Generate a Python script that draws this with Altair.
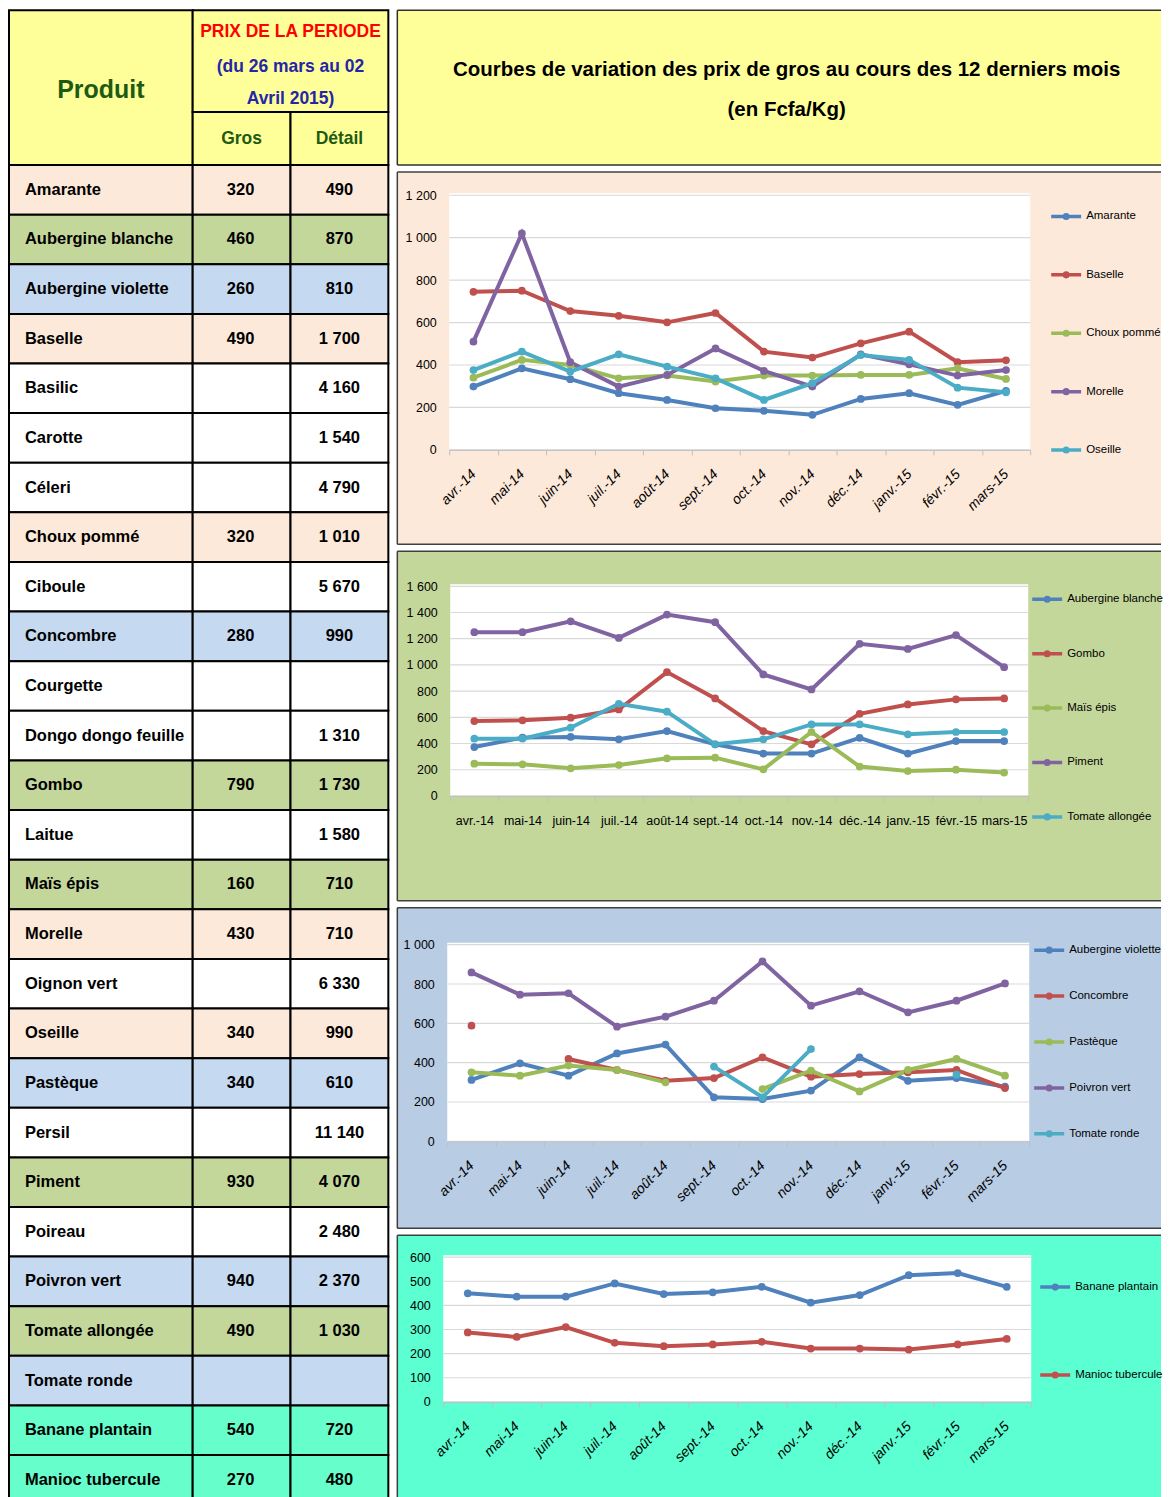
import altair as alt
import pandas as pd

# ---------------- data ----------------
mois = ["avr.-14", "mai-14", "juin-14", "juil.-14", "août-14", "sept.-14",
        "oct.-14", "nov.-14", "déc.-14", "janv.-15", "févr.-15", "mars-15"]

produits = ["Amarante", "Aubergine blanche", "Aubergine violette", "Baselle", "Basilic",
            "Carotte", "Céleri", "Choux pommé", "Ciboule", "Concombre", "Courgette",
            "Dongo dongo feuille", "Gombo", "Laitue", "Maïs épis", "Morelle", "Oignon vert",
            "Oseille", "Pastèque", "Persil", "Piment", "Poireau", "Poivron vert",
            "Tomate allongée", "Tomate ronde", "Banane plantain", "Manioc tubercule"]
prix_gros = [320, 460, 260, 490, None, None, None, 320, None, 280, None, None, 790, None,
             160, 430, None, 340, 340, None, 930, None, 940, 490, None, 540, 270]
prix_detail = [490, 870, 810, 1700, 4160, 1540, 4790, 1010, 5670, 990, None, 1310, 1730,
               1580, 710, 710, 6330, 990, 610, 11140, 4070, 2480, 2370, 1030, None, 720, 480]
groupes = ["Graphique 1", "Graphique 2", "Graphique 3", "Graphique 1", "Aucun", "Aucun", "Aucun",
           "Graphique 1", "Aucun", "Graphique 3", "Aucun", "Aucun", "Graphique 2", "Aucun",
           "Graphique 2", "Graphique 1", "Aucun", "Graphique 1", "Graphique 3", "Aucun",
           "Graphique 2", "Aucun", "Graphique 3", "Graphique 2", "Graphique 3",
           "Graphique 4", "Graphique 4"]

g1_noms = ["Amarante", "Baselle", "Choux pommé", "Morelle", "Oseille"]
amarante = [298, 384, 333, 267, 235, 196, 184, 165, 240, 267, 212, 278]
baselle = [745, 750, 654, 632, 601, 645, 463, 435, 502, 557, 413, 422]
choux_pomme = [340, 424, 400, 337, 350, 322, 350, 350, 353, 353, 384, 334]
morelle = [510, 1020, 413, 298, 353, 478, 372, 298, 450, 403, 350, 376]
oseille = [376, 463, 369, 450, 392, 337, 235, 314, 447, 424, 293, 271]

g2_noms = ["Aubergine blanche", "Gombo", "Maïs épis", "Piment", "Tomate allongée"]
aubergine_blanche = [373, 445, 450, 432, 495, 394, 323, 323, 444, 323, 419, 419]
gombo = [571, 577, 597, 660, 945, 744, 495, 394, 627, 698, 737, 744]
mais_epis = [246, 241, 211, 236, 287, 292, 203, 488, 224, 190, 200, 178]
piment = [1250, 1250, 1333, 1206, 1384, 1326, 927, 813, 1161, 1122, 1227, 983]
tomate_allongee = [437, 437, 521, 703, 643, 394, 432, 546, 546, 470, 488, 488]

g3_noms = ["Aubergine violette", "Concombre", "Pastèque", "Poivron vert", "Tomate ronde"]
aubergine_violette = [312, 397, 334, 447, 492, 224, 215, 258, 427, 308, 322, 278]
concombre = [588, None, 419, 363, 308, 322, 427, 329, 342, 351, 363, 271]
pasteque = [351, 334, 385, 363, 300, None, 266, 359, 254, 363, 419, 334]
poivron_vert = [859, 746, 753, 583, 634, 715, 915, 690, 763, 656, 715, 803]
tomate_ronde = [None, None, None, None, None, 380, 224, 469, None, None, 339, None]

g4_noms = ["Banane plantain", "Manioc tubercule"]
banane_plantain = [450, 436, 436, 491, 447, 454, 477, 411, 443, 525, 534, 477]
manioc_tubercule = [288, 269, 310, 245, 231, 238, 249, 221, 221, 217, 238, 261]

titre_1 = "Courbes de variation des prix de gros au cours des 12 derniers mois"
titre_2 = "(en Fcfa/Kg)"
entete_produit = "Produit"
entete_prix = ["PRIX DE LA PERIODE", "(du 26 mars au 02", "Avril 2015)"]
entete_gros = "Gros"
entete_detail = "Détail"

# ---------------- styles ----------------
FONT = "Liberation Sans, Arial, sans-serif"
SERIES_COLORS = ["#4F81BD", "#C0504D", "#9BBB59", "#8064A2", "#4BACC6"]
LEG_SYMBOL = "M-1,0L1,0M-0.12,0A0.12,0.12,0,1,0,0.12,0A0.12,0.12,0,1,0,-0.12,0"
PANEL_W = 765
ONE = alt.Data(values=[{}])


def fmt(v):
    return "" if v is None else f"{v:,}".replace(",", " ")


def text_layer(txt, x, y, size, color, weight="bold"):
    return alt.Chart(ONE).mark_text(
        font=FONT, fontSize=size, fontWeight=weight, color=color,
        align="center", baseline="middle"
    ).encode(x=alt.value(x), y=alt.value(y), text=alt.value(txt))


def box(x0, x1, y0, y1, fill, stroke="black", sw=2):
    return alt.Chart(ONE).mark_rect(fill=fill, stroke=stroke, strokeWidth=sw).encode(
        x=alt.value(x0), x2=alt.value(x1), y=alt.value(y0), y2=alt.value(y1))


def borders(width, height, color="#404040", sw=1.5):
    # left, top and bottom edges (the right edge runs off the page in the reference)
    mk = alt.Chart(ONE).mark_rule(color=color, strokeWidth=sw)
    return [
        mk.encode(x=alt.value(0), y=alt.value(0), y2=alt.value(height)),
        mk.encode(x=alt.value(0), x2=alt.value(width), y=alt.value(0)),
        mk.encode(x=alt.value(0), x2=alt.value(width), y=alt.value(height)),
    ]


# ---------------- table (one chart) ----------------
HDR_H = 155
ROW_H = 49.7
TABLE_H = HDR_H + round(ROW_H * len(produits))
HDR_GREEN = "#1E5B12"
YEL = "#FFFF99"

header_layers = [
    box(0, 184, 0, HDR_H, YEL),
    box(184, 380, 0, 102, YEL),
    box(184, 282, 102, HDR_H, YEL),
    box(282, 380, 102, HDR_H, YEL),
    text_layer(entete_produit, 92, 80, 25, HDR_GREEN),
    text_layer(entete_prix[0], 282, 22, 17.5, "#FF0000"),
    text_layer(entete_prix[1], 282, 57, 17.5, "#2525A8"),
    text_layer(entete_prix[2], 282, 89, 17.5, "#2525A8"),
    text_layer(entete_gros, 233, 129, 17.5, HDR_GREEN),
    text_layer(entete_detail, 331, 129, 17.5, HDR_GREEN),
]

table_df = pd.DataFrame({
    "produit": produits,
    "gros": [fmt(v) for v in prix_gros],
    "detail": [fmt(v) for v in prix_detail],
    "groupe": groupes,
})
row_y = alt.Y("produit:N", sort=produits, axis=None,
              scale=alt.Scale(type="band", range=[HDR_H, TABLE_H],
                              paddingInner=0, paddingOuter=0))
row_fill = alt.Color("groupe:N", legend=None, scale=alt.Scale(
    domain=["Graphique 1", "Graphique 2", "Graphique 3", "Graphique 4", "Aucun"],
    range=["#FDE9D9", "#C4D79B", "#C5D9F1", "#66FFCC", "#FFFFFF"]))
tbase = alt.Chart(table_df)
rect_layers = [
    tbase.mark_rect(stroke="black", strokeWidth=2, opacity=1).encode(
        y=row_y, x=alt.value(a), x2=alt.value(b), fill=row_fill)
    for a, b in [(0, 184), (184, 282), (282, 380)]
]
tx = dict(font=FONT, fontSize=16.5, fontWeight="bold", color="black", baseline="middle")
table = alt.layer(
    *header_layers,
    *rect_layers,
    tbase.mark_text(align="left", **tx).encode(y=row_y, x=alt.value(16), text="produit:N"),
    tbase.mark_text(align="center", **tx).encode(y=row_y, x=alt.value(232), text="gros:N"),
    tbase.mark_text(align="center", **tx).encode(y=row_y, x=alt.value(331), text="detail:N"),
).properties(width=380, height=TABLE_H,
             view=alt.ViewBackground(fill="white", strokeWidth=0))


# ---------------- chart panels ----------------
def panel(names, series, ymax, ystep, height, x0, x1, ytop, ybot, bg,
          leg_x, leg_y, leg_pad, rotate, xlab_pad):
    recs = []
    for n, vals in zip(names, series):
        for i, (m, v) in enumerate(zip(mois, vals)):
            recs.append({"mois": m, "i": i, "produit": n, "prix": v})
    df = pd.DataFrame(recs)
    grid_df = pd.DataFrame({"prix": list(range(0, ymax + 1, ystep))})

    y_axis = alt.Axis(
        values=list(range(0, ymax + 1, ystep)), domain=False, ticks=False, tickSize=0,
        grid=False, title=None, labelFont=FONT, labelFontSize=12.5, labelColor="black",
        labelPadding=13, offset=-x0, zindex=1,
        labelExpr="replace(format(datum.value, ','), ',', ' ')")
    Y = alt.Y("prix:Q", axis=y_axis,
              scale=alt.Scale(domain=[0, ymax], range=[ybot, ytop], nice=False, zero=True))

    xa = dict(title=None, grid=False, domainColor="#BFBFBF", tickColor="#BFBFBF",
              tickSize=5, tickBand="extent", labelFont=FONT,
              labelColor="black", labelOverlap=False, labelPadding=xlab_pad,
              offset=-(height - ybot), zindex=1)
    if rotate:
        xa.update(labelAngle=-45, labelAlign="right", labelBaseline="middle",
                  labelFontStyle="italic", labelFontSize=14)
    else:
        xa.update(labelAngle=0, labelAlign="center", labelBaseline="middle",
                  labelFontSize=12.5)
    X = alt.X("mois:N", sort=mois, axis=alt.Axis(**xa),
              scale=alt.Scale(type="band", domain=mois, range=[x0, x1],
                              paddingInner=0, paddingOuter=0))

    cscale = alt.Scale(domain=names, range=SERIES_COLORS[:len(names)])
    legend = alt.Legend(
        orient="none", legendX=leg_x, legendY=leg_y, title=None, direction="vertical",
        symbolType=LEG_SYMBOL, symbolSize=900, symbolStrokeWidth=3.5,
        labelFont=FONT, labelFontSize=11.5, labelColor="black", labelOffset=3,
        rowPadding=leg_pad, padding=0, zindex=1)

    white = alt.Chart(ONE).mark_rect(color="white").encode(
        x=alt.value(x0), x2=alt.value(x1), y=alt.value(ytop - 2), y2=alt.value(ybot))
    grid = alt.Chart(grid_df).mark_rule(color="#D9D9D9", strokeWidth=1.2).encode(
        y=Y, x=alt.value(x0), x2=alt.value(x1))
    lines = alt.Chart(df).mark_line(
        strokeWidth=4, invalid="break-paths-show-domains").encode(
        x=X, y=Y, order=alt.Order("i:Q"),
        color=alt.Color("produit:N", scale=cscale, legend=legend))
    points = alt.Chart(df).mark_point(filled=True, size=60, opacity=1).encode(
        x=X, y=Y, color=alt.Color("produit:N", scale=cscale, legend=None))

    return alt.layer(white, grid, lines, points, *borders(PANEL_W, height)).properties(
        width=PANEL_W, height=height,
        view=alt.ViewBackground(fill=bg, strokeWidth=0))


title_panel = alt.layer(
    text_layer(titre_1, 390, 60, 20.5, "black"),
    text_layer(titre_2, 390, 100, 20.5, "black"),
    *borders(PANEL_W, 155, "#303030"),
).properties(width=PANEL_W, height=155,
             view=alt.ViewBackground(fill="#FFFF99", strokeWidth=0))

p1 = panel(g1_noms, [amarante, baselle, choux_pomme, morelle, oseille],
           1200, 200, 373, 52, 634, 23.3, 278.3, "#FDE9D9", 653, 27.5, 32.5, True, 17)
p2 = panel(g2_noms, [aubergine_blanche, gombo, mais_epis, piment, tomate_allongee],
           1600, 200, 350, 53, 632, 35, 245, "#C4D79B", 634, 31, 28.5, False, 20)
p3 = panel(g3_noms, [aubergine_violette, concombre, pasteque, poivron_vert, tomate_ronde],
           1000, 200, 321, 50, 633, 37, 234, "#B8CCE4", 636, 25.5, 20, True, 17)
p4 = panel(g4_noms, [banane_plantain, manioc_tubercule],
           600, 100, 270, 46, 635, 22, 167, "#5CFFD1", 642, 35, 62, True, 17)

right = alt.vconcat(title_panel, p1, p2, p3, p4, spacing=7, bounds="flush").resolve_scale(
    color="independent", x="independent", y="independent")

chart = alt.hconcat(table, right, spacing=9, bounds="flush").properties(
    padding=0).configure_view(stroke="transparent")

chart.save("out.html", embed_options={"renderer": "svg", "actions": False})
